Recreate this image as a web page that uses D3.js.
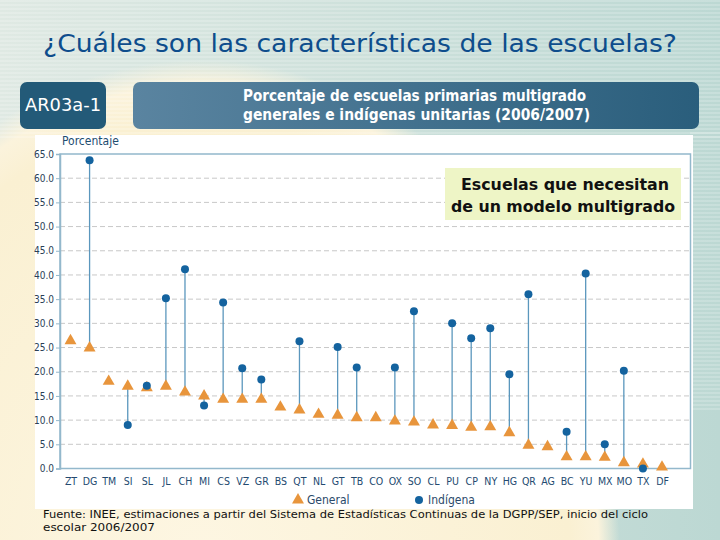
<!DOCTYPE html>
<html><head><meta charset="utf-8">
<script src="https://cdn.jsdelivr.net/npm/d3@7"></script>
<style>html,body{margin:0;padding:0;background:#fff}svg{display:block}</style>
</head><body>
<script>
const categories = ["ZT","DG","TM","SI","SL","JL","CH","MI","CS","VZ","GR","BS","QT","NL","GT","TB","CO","OX","SO","CL","PU","CP","NY","HG","QR","AG","BC","YU","MX","MO","TX","DF"];
const generalValues = [26.4,24.9,18.0,17.0,16.7,17.0,15.8,15.0,14.3,14.3,14.3,12.7,12.1,11.2,11.0,10.5,10.5,9.8,9.6,9.0,8.9,8.5,8.6,7.4,4.8,4.5,2.4,2.4,2.3,1.2,0.9,0.3];
const indigenaValues = [null,63.7,null,9.0,17.1,35.2,41.2,13.0,34.3,20.7,18.4,null,26.3,null,25.1,20.9,null,20.9,32.5,null,30.0,26.9,29.0,19.5,36.0,null,7.6,40.3,5.0,20.2,0.0,null];
const yTicks = [0,5,10,15,20,25,30,35,40,45,50,55,60,65];
const seriesNames = ["General","Indígena"];

const W = 720, H = 540;
const svg = d3.select("body").append("svg").attr("width", W).attr("height", H);
const defs = svg.append("defs");

// background
const bg = defs.append("linearGradient").attr("id","bg").attr("x1","0").attr("x2","1").attr("y1","0").attr("y2","0");
bg.append("stop").attr("offset","0").attr("stop-color","#dfe9e3");
bg.append("stop").attr("offset","1").attr("stop-color","#bcd8d3");
svg.append("rect").attr("width",W).attr("height",H).attr("fill","url(#bg)");
const rg = defs.append("radialGradient").attr("id","cream").attr("cx","0.5").attr("cy","0.5").attr("r","0.5");
rg.append("stop").attr("offset","0").attr("stop-color","#fdf6e2");
rg.append("stop").attr("offset","0.88").attr("stop-color","#faf0d2");
rg.append("stop").attr("offset","0.95").attr("stop-color","#fbf3dc");
rg.append("stop").attr("offset","1").attr("stop-color","#fbf3dc").attr("stop-opacity","0");
svg.append("ellipse").attr("cx",200).attr("cy",560).attr("rx",420).attr("ry",500).attr("fill","url(#cream)");
const pat = defs.append("pattern").attr("id","stripes").attr("width",4).attr("height",4).attr("patternUnits","userSpaceOnUse");
pat.append("rect").attr("width",4).attr("height",2).attr("fill","#ffffff").attr("opacity",0.18);
svg.append("rect").attr("width",W).attr("height",140).attr("fill","url(#stripes)");
svg.append("rect").attr("x",690).attr("y",130).attr("width",30).attr("height",280).attr("fill","url(#stripes)");

// title
svg.append("text").attr("x",360).attr("y",52).attr("text-anchor","middle")
  .attr("font-family","DejaVu Sans, Verdana, sans-serif").attr("font-size",24).attr("fill","#0e4d8c")
  .attr("textLength",634).attr("lengthAdjust","spacingAndGlyphs")
  .text("¿Cuáles son las características de las escuelas?");

// header boxes
svg.append("rect").attr("x",20).attr("y",82).attr("width",86).attr("height",47).attr("rx",7).attr("fill","#235a78");
svg.append("text").attr("x",63).attr("y",111).attr("text-anchor","middle").attr("fill","#fff")
  .attr("font-family","DejaVu Sans, sans-serif").attr("font-size",17)
  .attr("textLength",76).attr("lengthAdjust","spacingAndGlyphs").text("AR03a-1");
const hg = defs.append("linearGradient").attr("id","hdr").attr("x1","0").attr("x2","1");
hg.append("stop").attr("offset","0").attr("stop-color","#5a84a0");
hg.append("stop").attr("offset","1").attr("stop-color","#2a5e7c");
svg.append("rect").attr("x",133).attr("y",82).attr("width",566).attr("height",47).attr("rx",7).attr("fill","url(#hdr)");
svg.append("text").attr("x",243).attr("y",101).attr("fill","#fff").attr("font-weight","bold")
  .attr("font-family","DejaVu Sans Condensed, DejaVu Sans, sans-serif").attr("font-size",15)
  .attr("textLength",343).attr("lengthAdjust","spacingAndGlyphs").text("Porcentaje de escuelas primarias multigrado");
svg.append("text").attr("x",243).attr("y",120).attr("fill","#fff").attr("font-weight","bold")
  .attr("font-family","DejaVu Sans Condensed, DejaVu Sans, sans-serif").attr("font-size",15)
  .attr("textLength",347).attr("lengthAdjust","spacingAndGlyphs").text("generales e indígenas unitarias (2006/2007)");

// white panel
svg.append("rect").attr("x",35).attr("y",135).attr("width",658).attr("height",374).attr("fill","#ffffff");

// scales
const x = d3.scalePoint().domain(categories).range([70.5, 662]);
const y = d3.scaleLinear().domain([0,65]).range([468.5, 154]);
const L = 60, R = 690.5;

// grid
svg.append("g").selectAll("line").data(yTicks.filter(t=>t>0 && t<65)).join("line")
  .attr("x1",L).attr("x2",R).attr("y1",d=>y(d)).attr("y2",d=>y(d))
  .attr("stroke","#c8c8c8").attr("stroke-width",1).attr("stroke-dasharray","5,3");

// frame
svg.append("rect").attr("x",L).attr("y",y(65)).attr("width",R-L).attr("height",y(0)-y(65))
  .attr("fill","none").attr("stroke","#93b8cc").attr("stroke-width",1.5);

// y axis
const yAxis = d3.axisLeft(y).tickValues(yTicks).tickFormat(d3.format(".1f")).tickSize(4).tickPadding(2);
const ya = svg.append("g").attr("transform",`translate(${L},0)`).call(yAxis);
ya.select(".domain").attr("stroke","#93b8cc").attr("stroke-width",1.5);
ya.selectAll(".tick line").attr("stroke","#93b8cc");
ya.selectAll("text").attr("font-family","DejaVu Sans Condensed, DejaVu Sans, sans-serif").attr("font-size",10).attr("fill","#2b3f55");

svg.append("text").attr("x",62).attr("y",145).attr("font-family","DejaVu Sans Condensed, DejaVu Sans, sans-serif")
  .attr("font-size",12).attr("fill","#1e4d70").text("Porcentaje");

// x axis labels
const xAxis = d3.axisBottom(x).tickSize(0).tickPadding(9);
const xa = svg.append("g").attr("transform",`translate(0,${y(0)})`).call(xAxis);
xa.select(".domain").remove();
xa.selectAll("text").attr("font-family","DejaVu Sans Condensed, DejaVu Sans, sans-serif").attr("font-size",10.5).attr("fill","#234a70");

// stems
const pairs = categories.map((c,i)=>({c, g:generalValues[i], v:indigenaValues[i]}));
svg.append("g").selectAll("line").data(pairs.filter(d=>d.v!==null)).join("line")
  .attr("x1",d=>x(d.c)).attr("x2",d=>x(d.c)).attr("y1",d=>y(d.g)).attr("y2",d=>y(d.v))
  .attr("stroke","#5b97bd").attr("stroke-width",1.3);

// markers
const tri = d3.symbol().type(d3.symbolTriangle).size(62);
svg.append("g").selectAll("path").data(pairs).join("path")
  .attr("d",tri).attr("transform",d=>`translate(${x(d.c)},${y(d.g)})`).attr("fill","#e8953c");
svg.append("g").selectAll("circle").data(pairs.filter(d=>d.v!==null)).join("circle")
  .attr("cx",d=>x(d.c)).attr("cy",d=>y(d.v)).attr("r",4).attr("fill","#14639f");

// legend
const lg = svg.append("g").attr("font-family","DejaVu Sans Condensed, DejaVu Sans, sans-serif").attr("font-size",12).attr("fill","#2b4a6a");
lg.append("path").attr("d",tri).attr("transform","translate(298,500)").attr("fill","#e8953c");
lg.append("text").attr("x",307).attr("y",504).text(seriesNames[0]);
lg.append("circle").attr("cx",419).attr("cy",500).attr("r",4).attr("fill","#14639f");
lg.append("text").attr("x",428).attr("y",504).text(seriesNames[1]);

// annotation
svg.append("rect").attr("x",445).attr("y",168).attr("width",236).attr("height",52).attr("fill","#eef5c6");
const an = svg.append("g").attr("font-family","DejaVu Sans Condensed, DejaVu Sans, sans-serif").attr("font-size",16).attr("font-weight",600).attr("fill","#111").attr("text-anchor","middle");
an.append("text").attr("x",565).attr("y",190).attr("textLength",208).attr("lengthAdjust","spacingAndGlyphs").text("Escuelas que necesitan");
an.append("text").attr("x",563).attr("y",212).attr("textLength",224).attr("lengthAdjust","spacingAndGlyphs").text("de un modelo multigrado");

// footnote
const fn = svg.append("g").attr("font-family","DejaVu Sans Condensed, DejaVu Sans, sans-serif").attr("font-size",11).attr("fill","#111");
fn.append("text").attr("x",43).attr("y",518).attr("textLength",605).attr("lengthAdjust","spacingAndGlyphs")
  .text("Fuente: INEE, estimaciones a partir del Sistema de Estadísticas Continuas de la DGPP/SEP, inicio del ciclo");
fn.append("text").attr("x",43).attr("y",531).attr("textLength",112).attr("lengthAdjust","spacingAndGlyphs").text("escolar 2006/2007");
</script>
</body></html>
